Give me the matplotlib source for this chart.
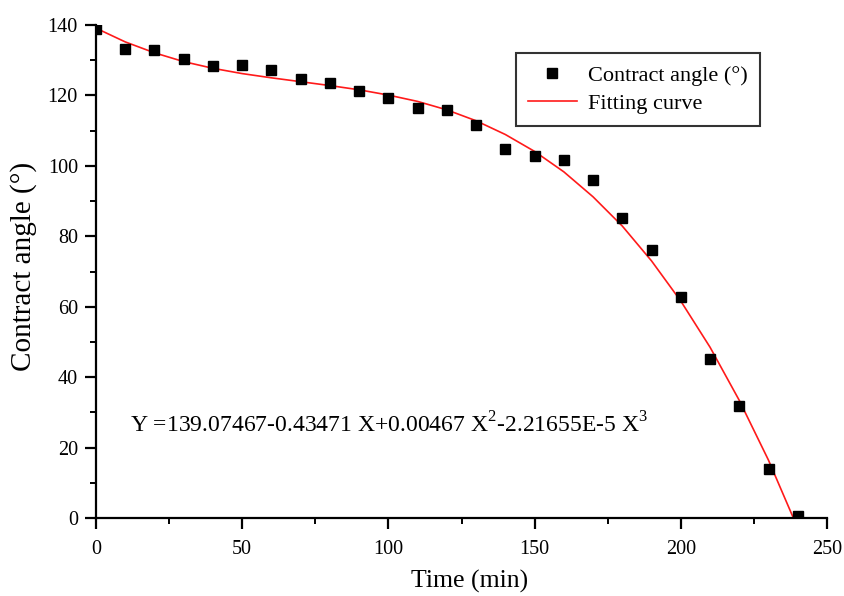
import matplotlib
matplotlib.use("Agg")
import matplotlib.pyplot as plt
from matplotlib.ticker import MultipleLocator

time_min = [0, 10, 20, 30, 40, 50, 60, 70, 80, 90, 100, 110, 120,
            130, 140, 150, 160, 170, 180, 190, 200, 210, 220, 230, 240]
contact_angle = [139.0, 133.3, 132.9, 130.3, 128.4, 128.6, 127.3, 124.6, 123.5,
                 121.3, 119.2, 116.3, 115.9, 111.6, 104.7, 102.8, 101.8, 96.0,
                 85.3, 76.1, 62.8, 45.2, 31.9, 13.9, 0.6]

# Fitting curve
fit_x = [0, 10, 20, 30, 40, 50, 60, 70, 80, 90, 100, 110, 120,
         130, 140, 150, 160, 170, 180, 190, 200, 210, 220, 230, 238.5]
fit_y = [139.1, 135.2, 132.1, 129.6, 127.7, 126.2, 125.0, 123.9, 122.8,
         121.6, 120.1, 118.3, 115.9, 112.8, 108.9, 104.1, 98.3, 91.2,
         82.9, 73.0, 61.6, 48.5, 33.4, 16.4, 0.0]

equation = "Y =139.07467-0.43471 X+0.00467 X$^{2}$-2.21655E-5 X$^{3}$"

plt.rcParams['font.family'] = ['Liberation Serif', 'DejaVu Serif']
plt.rcParams['mathtext.fontset'] = 'custom'
plt.rcParams['mathtext.rm'] = 'Liberation Serif'

fig = plt.figure(figsize=(8.44, 5.96), dpi=100)
ax = fig.add_axes([96/844, 1-518/596, (827-96)/844, (518-25)/596])

ax.plot(time_min, contact_angle, linestyle='none', marker='s', markersize=7.5,
        color='black', label='Contract angle (°)', zorder=3)
ax.plot(fit_x, fit_y, color='#ff1a1a', linewidth=1.2, label='Fitting curve', zorder=2)

ax.set_xlim(0, 250)
ax.set_ylim(0, 140)
ax.xaxis.set_major_locator(MultipleLocator(50))
ax.xaxis.set_minor_locator(MultipleLocator(25))
ax.yaxis.set_major_locator(MultipleLocator(20))
ax.yaxis.set_minor_locator(MultipleLocator(10))

for s in ['top', 'right']:
    ax.spines[s].set_visible(False)
for s in ['left', 'bottom']:
    ax.spines[s].set_linewidth(1.6)

ax.tick_params(which='major', direction='out', length=8, width=1.6, labelsize=14.5, pad=5)
ax.tick_params(which='minor', direction='out', length=4, width=1.4)
ax.tick_params(axis='x', which='major', pad=8)

ax.set_xlabel('Time (min)', fontsize=18.5)
ax.set_ylabel('Contract angle (°)', fontsize=21)
ax.xaxis.set_label_coords((470-96)/731, (518-570)/493)
ax.yaxis.set_label_coords((24-96)/731, (518-266)/493)
ax.xaxis.label.set_va('top')
ax.yaxis.label.set_va('center')

ax.text((130-96)/731, (518-425)/493, equation, transform=ax.transAxes,
        fontsize=17, va='center', ha='left')

leg = ax.legend(loc='upper left', bbox_to_anchor=((515.7-96)/731, (518-53)/493),
                borderaxespad=0, fontsize=16, frameon=True, fancybox=False,
                edgecolor='black', handlelength=2.2, handletextpad=0.5,
                borderpad=0.55, labelspacing=0.35)
leg.get_frame().set_linewidth(1.5)

fig.savefig('out.png', dpi=100)
